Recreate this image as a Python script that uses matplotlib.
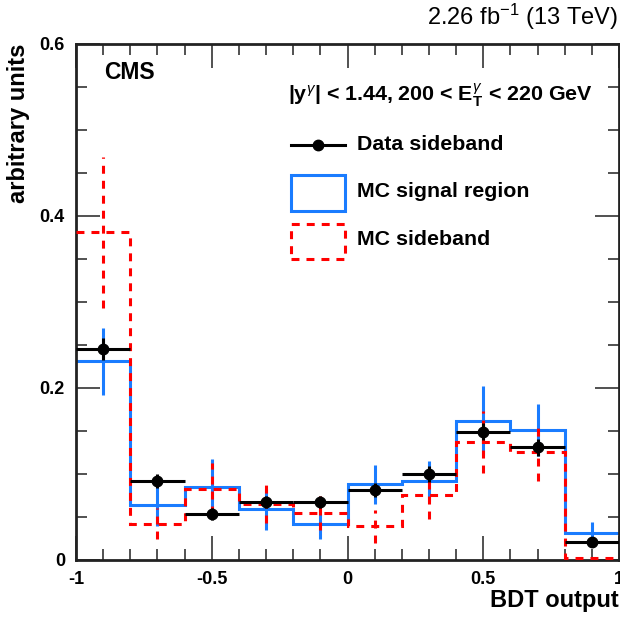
import matplotlib
matplotlib.use('Agg')
import matplotlib.pyplot as plt
import numpy as np
from matplotlib.lines import Line2D
from matplotlib.patches import Rectangle
from matplotlib.ticker import MultipleLocator

plt.rcParams['font.family'] = ['Liberation Sans', 'DejaVu Sans']
plt.rcParams['mathtext.fontset'] = 'custom'
plt.rcParams['mathtext.rm'] = 'Liberation Sans'
plt.rcParams['mathtext.bf'] = 'Liberation Sans:bold'
plt.rcParams['mathtext.it'] = 'Liberation Sans:italic'

# bin edges of the BDT output
edges = [-1.0, -0.8, -0.6, -0.4, -0.2, 0.0, 0.2, 0.4, 0.6, 0.8, 1.0]

# data sideband
data_y = [0.245, 0.092, 0.054, 0.067, 0.067, 0.081, 0.100, 0.149, 0.131, 0.021]
data_err = [0.013, 0.008, 0.007, 0.007, 0.007, 0.008, 0.009, 0.010, 0.010, 0.005]

# MC signal region
sig_y = [0.231, 0.064, 0.085, 0.059, 0.042, 0.088, 0.092, 0.162, 0.151, 0.031]
sig_err = [0.039, 0.025, 0.033, 0.024, 0.017, 0.023, 0.023, 0.040, 0.030, 0.013]

# MC sideband
sb_y = [0.381, 0.042, 0.083, 0.065, 0.055, 0.039, 0.076, 0.137, 0.126, 0.002]
sb_err = [0.088, 0.018, 0.030, 0.022, 0.020, 0.019, 0.028, 0.036, 0.034, 0.002]

labels = ['Data sideband', 'MC signal region', 'MC sideband']

blue = '#1a7cff'
red = '#ff0000'
dash = (0, (2.6, 2.3))


def main():
    edges_a = np.array(edges)
    centers = 0.5 * (edges_a[1:] + edges_a[:-1])
    halfw = 0.5 * np.diff(edges_a)

    fig = plt.figure(figsize=(6.2, 6.19), dpi=100)
    ax = fig.add_axes([76 / 620, 59 / 619, 543 / 620, 516 / 619])

    # MC signal region
    ax.stairs(sig_y, edges_a, baseline=None, color=blue, lw=2.2, zorder=2)
    ax.errorbar(centers, sig_y, yerr=sig_err, fmt='none', ecolor=blue,
                elinewidth=2.2, capsize=0, zorder=2)

    # MC sideband
    ax.stairs(sb_y, edges_a, baseline=None, color=red, lw=2.2, ls=dash, zorder=3)
    eb = ax.errorbar(centers, sb_y, yerr=sb_err, fmt='none', ecolor=red,
                     elinewidth=2.2, capsize=0, zorder=3)
    for c in eb[2]:
        c.set_linestyle(dash)

    # data
    ax.errorbar(centers, data_y, xerr=halfw, yerr=data_err, fmt='o', color='black',
                ms=7.5, elinewidth=2.2, capsize=0, zorder=4)

    ax.set_xlim(-1, 1)
    ax.set_ylim(0, 0.6)
    ax.xaxis.set_minor_locator(MultipleLocator(0.1))
    ax.yaxis.set_minor_locator(MultipleLocator(0.05))
    ax.set_xticks([-1, -0.5, 0, 0.5, 1])
    ax.set_xticklabels(['-1', '-0.5', '0', '0.5', '1'], fontweight='bold', fontsize=13)
    ax.set_yticks([0, 0.2, 0.4, 0.6])
    ax.set_yticklabels(['0', '0.2', '0.4', '0.6'], fontweight='bold', fontsize=13)
    ax.tick_params(which='both', direction='in', top=True, right=True, color='#333333', width=1.2)
    ax.tick_params(which='major', length=17, pad=8)
    ax.tick_params(which='minor', length=8)
    for s in ax.spines.values():
        s.set_linewidth(2)
        s.set_color('#222222')

    ax.text(-0.105, 1.0, 'arbitrary units', transform=ax.transAxes, rotation=90,
            fontsize=17, fontweight='bold', ha='center', va='top')
    ax.text(1.0, -0.078, 'BDT output', transform=ax.transAxes, fontsize=17,
            fontweight='bold', ha='right', va='center')

    fig.text(0.997, 0.972, '2.26 fb$^{-1}$ (13 TeV)', fontsize=17, ha='right', va='center')
    ax.text(0.052, 0.944, 'CMS', transform=ax.transAxes, fontsize=16.5, fontweight='bold',
            va='center', ha='left')
    ax.text(0.39, 0.901, r'|y$^{\gamma}$| < 1.44, 200 < E$_{\mathbf{T}}^{\gamma}$ < 220 GeV',
            transform=ax.transAxes, fontsize=15.4, fontweight='bold', va='center', ha='left')

    # legend, drawn by hand in axes coordinates
    hx0, hx1 = 0.396, 0.4954
    ax.add_line(Line2D([hx0, hx1], [0.8043, 0.8043], color='black', lw=2.2,
                       transform=ax.transAxes))
    ax.add_line(Line2D([0.4457], [0.8043], color='black', marker='o', ms=7.5,
                       transform=ax.transAxes))
    ax.add_patch(Rectangle((hx0, 0.6764), hx1 - hx0, 0.7461 - 0.6764, facecolor='none',
                           edgecolor=blue, lw=2.2, transform=ax.transAxes))
    ax.add_patch(Rectangle((hx0, 0.5833), hx1 - hx0, 0.6512 - 0.5833, facecolor='none',
                           edgecolor=red, lw=2.2, ls=dash, transform=ax.transAxes))
    for lab, ly in zip(labels, [0.8043, 0.7132, 0.6202]):
        ax.text(0.5175, ly, lab, transform=ax.transAxes, fontsize=15.4, fontweight='bold',
                va='center', ha='left')

    fig.savefig('out.png', dpi=100)


if __name__ == '__main__':
    main()
